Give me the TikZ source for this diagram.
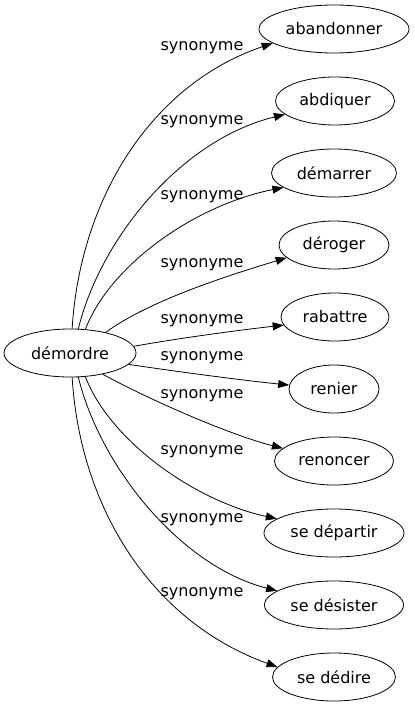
\documentclass[tikz,border=0pt]{standalone}
\usepackage{fontspec}
\setmainfont{DejaVu Sans}
\usetikzlibrary{arrows.meta,shapes.geometric}
\tikzset{
  word/.style={draw, ellipse, inner sep=0pt, minimum height=48pt, line width=0.8pt, font=\fontsize{16}{19}\selectfont},
  edge/.style={line width=0.8pt, -{Triangle[length=11pt,width=8pt]}},
  lab/.style={font=\fontsize{16}{19}\selectfont, inner sep=0pt}
}
\begin{document}
\begin{tikzpicture}[x=1pt,y=-1pt]
\useasboundingbox (0,0) rectangle (415,707);
\node[word, minimum width=132pt] (dem) at (70,353) {démordre};
\node[word, minimum width=150pt] (n1) at (334,29) {abandonner};
\node[word, minimum width=119pt] (n2) at (335,101) {abdiquer};
\node[word, minimum width=125pt] (n3) at (334,173) {démarrer};
\node[word, minimum width=110pt] (n4) at (334,245) {déroger};
\node[word, minimum width=108pt] (n5) at (335,317) {rabattre};
\node[word, minimum width=90pt] (n6) at (334,389) {renier};
\node[word, minimum width=119pt] (n7) at (334,461) {renoncer};
\node[word, minimum width=140pt] (n8) at (334,533) {se départir};
\node[word, minimum width=139pt] (n9) at (334,605) {se désister};
\node[word, minimum width=123pt] (n10) at (334,677) {se dédire};

\draw[edge] (dem.85) .. controls (80,200) and (150,85) .. (n1.193);
\draw[edge] (dem.71) .. controls (100,240) and (180,140) .. (n2.195);
\draw[edge] (dem.57) .. controls (110,265) and (195,205) .. (n3.196);
\draw[edge] (dem.30) .. controls (150,300) and (230,275) .. (n4.195);
\draw[edge] (dem.6) .. controls (180,338) and (240,330) .. (n5.189);
\draw[edge] (dem.-11) .. controls (180,372) and (240,380) .. (n6.175);
\draw[edge] (dem.-33) .. controls (150,400) and (230,435) .. (n7.166);
\draw[edge] (dem.-57) .. controls (110,441) and (195,501) .. (n8.166);
\draw[edge] (dem.-71) .. controls (100,466) and (180,566) .. (n9.166);
\draw[edge] (dem.-85) .. controls (80,506) and (150,621) .. (n10.170);

\node[lab] (l1) at (202,48) {synonyme};
\node[lab] (l2) at (202,122) {synonyme};
\node[lab] (l3) at (202,197) {synonyme};
\node[lab] (l4) at (202,265) {synonyme};
\node[lab] (l5) at (202,321) {synonyme};
\node[lab] (l6) at (202,358) {synonyme};
\node[lab] (l7) at (202,396) {synonyme};
\node[lab] (l8) at (202,452) {synonyme};
\node[lab] (l9) at (202,520) {synonyme};
\node[lab] (l10) at (202,594) {synonyme};
\end{tikzpicture}
\end{document}
